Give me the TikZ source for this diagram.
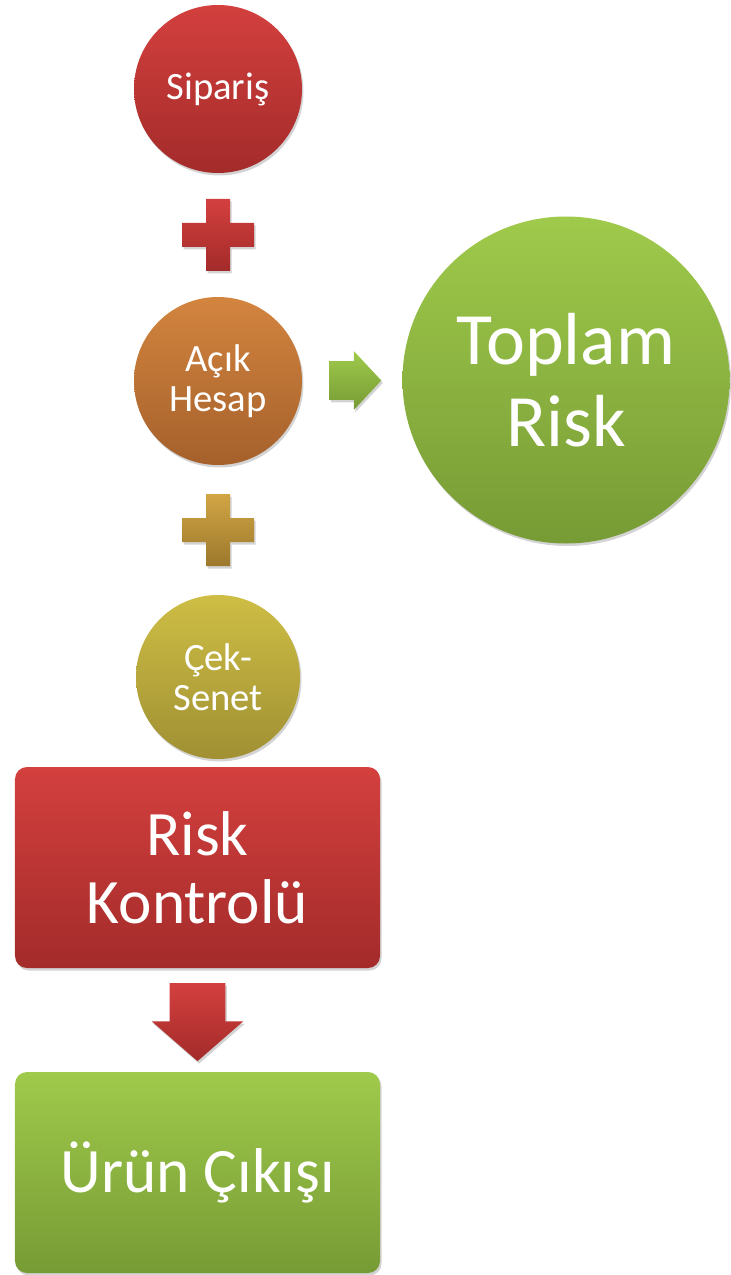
\documentclass[tikz,border=0pt]{standalone}
\usepackage{fontspec}
\setmainfont{Carlito}
\usetikzlibrary{calc,shapes.arrows,shadows,shadings}

\definecolor{kirmiziA}{HTML}{D3403E}
\definecolor{kirmiziB}{HTML}{A32B2A}
\definecolor{turuncuA}{HTML}{D3853F}
\definecolor{turuncuB}{HTML}{A5602B}
\definecolor{sariA}{HTML}{CEBE45}
\definecolor{sariB}{HTML}{A09033}
\definecolor{altinA}{HTML}{D2A545}
\definecolor{altinB}{HTML}{9C782C}
\definecolor{yesilA}{HTML}{9FCA4B}
\definecolor{yesilB}{HTML}{779B35}

\tikzset{
  golge/.style={drop shadow={shadow xshift=0.03cm, shadow yshift=-0.05cm, opacity=0.35}},
  daire/.style={circle, inner sep=0pt, text=white, align=center, golge,
    font=\fontsize{22}{23}\selectfont},
  kutu/.style={rectangle, rounded corners=0.24cm, minimum width=7.3cm, minimum height=4.02cm,
    inner sep=0pt, text=white, align=center, golge, font=\fontsize{36}{38.7}\selectfont},
  blokok/.style={single arrow, inner sep=0pt, golge, single arrow head indent=0pt},
  arti/.style={golge}
}

\begin{document}
\begin{tikzpicture}
    \useasboundingbox (0,0) rectangle (14.6,-25.5);

    % daireler
    \node[daire, minimum size=3.36cm, top color=kirmiziA, bottom color=kirmiziB] (siparis) at (4.36,-1.78) {Sipariş};
    \node[daire, minimum size=3.36cm, top color=turuncuA, bottom color=turuncuB] (acik) at (4.36,-7.62) {Açık\\Hesap};
    \node[daire, minimum size=3.28cm, top color=sariA, bottom color=sariB] (cek) at (4.36,-13.54) {Çek-\\Senet};
    \node[daire, minimum size=6.54cm, top color=yesilA, bottom color=yesilB,
      font=\fontsize{42}{46.7}\selectfont] (toplam) at (11.32,-7.6) {Toplam\\Risk};

    % kutular
    \node[kutu, top color=kirmiziA, bottom color=kirmiziB] (kontrol) at (3.95,-17.35) {Risk\\Kontrolü};
    \node[kutu, top color=yesilA, bottom color=yesilB] (urun) at (3.95,-23.45) {Ürün Çıkışı};

    % arti isaretleri
    \path[arti, top color=kirmiziA, bottom color=kirmiziB] ($(siparis.south)!0.5!(acik.north)$)
      ++(-0.24,0.72) -- ++(0.48,0) -- ++(0,-0.48) -- ++(0.48,0) -- ++(0,-0.48) -- ++(-0.48,0)
      -- ++(0,-0.48) -- ++(-0.48,0) -- ++(0,0.48) -- ++(-0.48,0) -- ++(0,0.48) -- ++(0.48,0) -- cycle;
    \path[arti, top color=altinA, bottom color=altinB] ($(acik.south)!0.5!(cek.north)$)
      ++(-0.24,0.72) -- ++(0.48,0) -- ++(0,-0.48) -- ++(0.48,0) -- ++(0,-0.48) -- ++(-0.48,0)
      -- ++(0,-0.48) -- ++(-0.48,0) -- ++(0,0.48) -- ++(-0.48,0) -- ++(0,0.48) -- ++(0.48,0) -- cycle;

    % oklar
    \node[blokok, inner ysep=0.38cm, minimum height=1.04cm, single arrow head extend=0.2cm,
      single arrow tip angle=94, top color=yesilA, bottom color=yesilB, xshift=-0.12cm] (okSag)
      at ($(acik.east)!0.5!(toplam.west)$) {};
    \node[blokok, shape border rotate=270, inner xsep=0.55cm, minimum height=1.56cm,
      single arrow head extend=0.36cm, single arrow tip angle=98, top color=kirmiziA, bottom color=kirmiziB,
      yshift=0.2cm] (okAsagi)
      at ($(kontrol.south)!0.5!(urun.north)$) {};
\end{tikzpicture}
\end{document}
